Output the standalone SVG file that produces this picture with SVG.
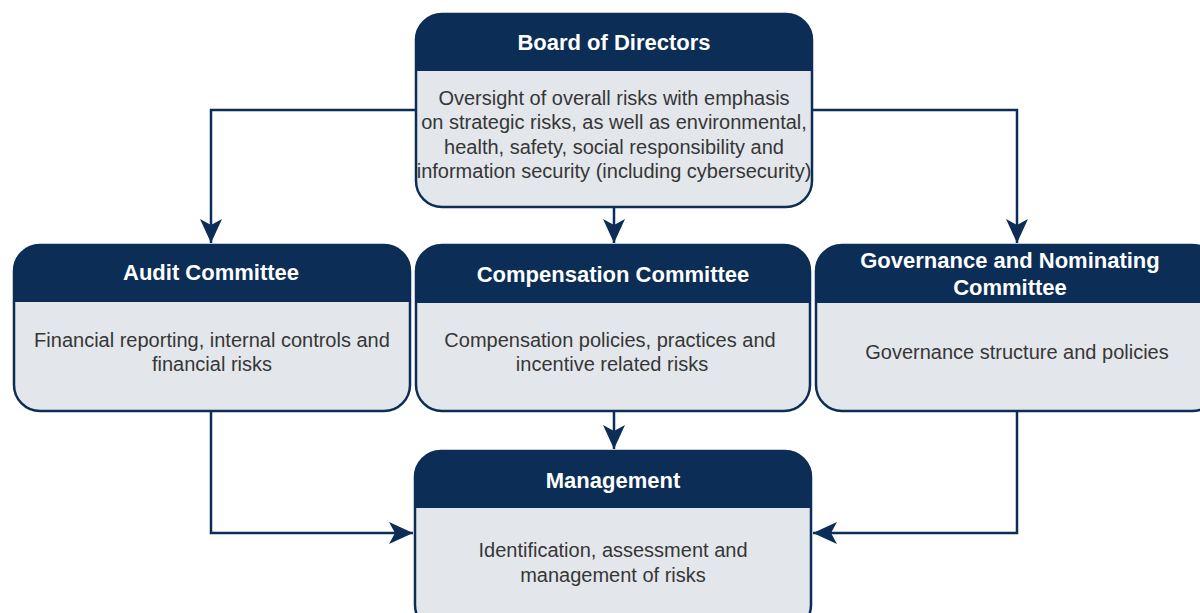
<svg xmlns="http://www.w3.org/2000/svg" width="1200" height="613" viewBox="0 0 1200 613">
<defs>
<style>
.body{fill:#e3e7ec;}
.hdr{fill:#0b2d56;}
.outline{fill:none;stroke:#0b2d56;stroke-width:2.5;}
.ht{font-family:"Liberation Sans",Arial,sans-serif;font-size:22px;font-weight:bold;fill:#ffffff;text-anchor:middle;}
.bt{font-family:"Liberation Sans",Arial,sans-serif;font-size:20px;fill:#363636;text-anchor:middle;}
.conn{fill:none;stroke:#0b2d56;stroke-width:2.5;}
</style>
<marker id="ah" markerUnits="userSpaceOnUse" markerWidth="24" markerHeight="22" viewBox="0 0 24 22" refX="24" refY="11" orient="auto">
<path d="M0,0 L24,11 L0,22 L6,11 Z" fill="#0b2d56"/>
</marker>
</defs>
<rect width="1200" height="613" fill="#ffffff"/>

<g id="connectors">
<path class="conn" d="M416,110 H211 V243" marker-end="url(#ah)"/>
<path class="conn" d="M812,110 H1017 V243" marker-end="url(#ah)"/>
<path class="conn" d="M614,207 V243" marker-end="url(#ah)"/>
<path class="conn" d="M614,411 V449" marker-end="url(#ah)"/>
<path class="conn" d="M211,411 V533 H413" marker-end="url(#ah)"/>
<path class="conn" d="M1017,411 V533 H813" marker-end="url(#ah)"/>
</g>

<g id="board">
<rect class="body" x="416" y="14" width="396" height="193" rx="26"/>
<path class="hdr" d="M416,71 V40 A26,26 0 0 1 442,14 H786 A26,26 0 0 1 812,40 V71 Z"/>
<rect class="outline" x="416" y="14" width="396" height="193" rx="26"/>
<text class="ht" x="614" y="50">Board of Directors</text>
<text class="bt" x="614" y="105">Oversight of overall risks with emphasis</text>
<text class="bt" x="614" y="129">on strategic risks, as well as environmental,</text>
<text class="bt" x="614" y="154">health, safety, social responsibility and</text>
<text class="bt" x="614" y="178">information security (including cybersecurity)</text>
</g>

<g id="audit">
<rect class="body" x="14" y="245" width="396" height="166" rx="26"/>
<path class="hdr" d="M14,302 V271 A26,26 0 0 1 40,245 H384 A26,26 0 0 1 410,271 V302 Z"/>
<rect class="outline" x="14" y="245" width="396" height="166" rx="26"/>
<text class="ht" x="211" y="280">Audit Committee</text>
<text class="bt" x="212" y="347">Financial reporting, internal controls and</text>
<text class="bt" x="212" y="371">financial risks</text>
</g>

<g id="compensation">
<rect class="body" x="416" y="245" width="394" height="166" rx="26"/>
<path class="hdr" d="M416,303 V271 A26,26 0 0 1 442,245 H784 A26,26 0 0 1 810,271 V303 Z"/>
<rect class="outline" x="416" y="245" width="394" height="166" rx="26"/>
<text class="ht" x="613" y="282">Compensation Committee</text>
<text class="bt" x="610" y="347">Compensation policies, practices and</text>
<text class="bt" x="612" y="371">incentive related risks</text>
</g>

<g id="governance">
<rect class="body" x="816" y="245" width="402" height="166" rx="26"/>
<path class="hdr" d="M816,303 V271 A26,26 0 0 1 842,245 H1192 A26,26 0 0 1 1218,271 V303 Z"/>
<rect class="outline" x="816" y="245" width="402" height="166" rx="26"/>
<text class="ht" x="1010" y="268">Governance and Nominating</text>
<text class="ht" x="1010" y="295">Committee</text>
<text class="bt" x="1017" y="359">Governance structure and policies</text>
</g>

<g id="management">
<rect class="body" x="415" y="451" width="396" height="180" rx="26"/>
<path class="hdr" d="M415,508 V477 A26,26 0 0 1 441,451 H785 A26,26 0 0 1 811,477 V508 Z"/>
<rect class="outline" x="415" y="451" width="396" height="180" rx="26"/>
<text class="ht" x="613" y="488">Management</text>
<text class="bt" x="613" y="557">Identification, assessment and</text>
<text class="bt" x="613" y="582">management of risks</text>
</g>
</svg>
